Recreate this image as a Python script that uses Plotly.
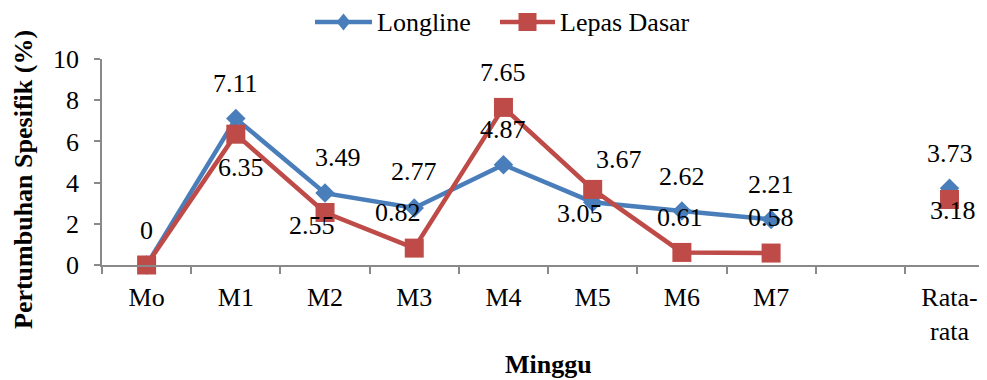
import plotly.graph_objects as go

categories = ["Mo", "M1", "M2", "M3", "M4", "M5", "M6", "M7", " ", "Rata-rata"]
tick_text = ["Mo", "M1", "M2", "M3", "M4", "M5", "M6", "M7", "", "Rata-<br>rata"]
series_names = ["Longline", "Lepas Dasar"]
longline = [0, 7.11, 3.49, 2.77, 4.87, 3.05, 2.62, 2.21, None, 3.73]
lepas_dasar = [0, 6.35, 2.55, 0.82, 7.65, 3.67, 0.61, 0.58, None, 3.18]

# label offsets (px) for data labels (styling)
long_off = [None, (0, 35), (13, 36), (0, 36), (0, 35), (-13, -11), (0, 35), (0, 35), None, (0, 35)]
lepas_off = [(0, 35), (5, -33), (-13, -13), (-16, 36), (0, 35), (26, 30), (-2, 35), (0, 36), None, (3, -11)]

FONT = "Liberation Serif, Times New Roman, serif"
BLUE = "#4A7EBB"
RED = "#BE4B48"
AXIS = "#898989"

OFF = 8  # page body margin
W, H = 987 - OFF, 380 - OFF
L, R, T, B = 102 - OFF, 0, 59 - OFF, 115
pw, ph = W - L - R, H - T - B


def px_x(page_x):
    return (page_x - OFF - L) / pw


def px_y(page_y):
    return (H - B - (page_y - OFF)) / ph


fig = go.Figure()
fig.add_trace(go.Scatter(
    x=categories, y=longline, name=series_names[0], mode="lines+markers",
    line=dict(color=BLUE, width=4.5),
    marker=dict(symbol="diamond", size=15, color=BLUE),
    connectgaps=False, cliponaxis=False, showlegend=False,
))
fig.add_trace(go.Scatter(
    x=categories, y=lepas_dasar, name=series_names[1], mode="lines+markers",
    line=dict(color=RED, width=4.5),
    marker=dict(symbol="square", size=19, color=RED),
    connectgaps=False, cliponaxis=False, showlegend=False,
))

annotations = []
for series, offs in ((longline, long_off), (lepas_dasar, lepas_off)):
    for c, v, o in zip(categories, series, offs):
        if v is None or o is None:
            continue
        annotations.append(dict(
            x=c, y=v, xref="x", yref="y", text=f"{v:g}", showarrow=False,
            xshift=o[0], yshift=o[1], xanchor="center", yanchor="middle",
            font=dict(family=FONT, size=26, color="black"),
        ))

annotations.append(dict(
    x=px_x(23), y=px_y(180), xref="paper", yref="paper",
    text="<b>Pertumbuhan Spesifik (%)</b>", xanchor="center", yanchor="middle",
    showarrow=False, textangle=-90, font=dict(family=FONT, size=26, color="black"),
))
annotations.append(dict(
    x=px_x(548), y=px_y(364), xref="paper", yref="paper",
    text="<b>Minggu</b>", xanchor="center", yanchor="middle",
    showarrow=False, font=dict(family=FONT, size=26, color="black"),
))

# custom legend (lines with longer strokes, like the reference)
LEG_Y = 22
shapes = []
legend_items = [
    (series_names[0], BLUE, "diamond", 315, 372, 375),
    (series_names[1], RED, "square", 500, 555, 558),
]
for name, col, sym, x0, x1, tx in legend_items:
    shapes.append(dict(type="line", xref="paper", yref="paper",
                       x0=px_x(x0), x1=px_x(x1), y0=px_y(LEG_Y), y1=px_y(LEG_Y),
                       line=dict(color=col, width=4.5)))
    cx = (x0 + x1) / 2
    if sym == "diamond":
        path = (f"M {px_x(cx)},{px_y(LEG_Y - 8.5)} L {px_x(cx + 7)},{px_y(LEG_Y)} "
                f"L {px_x(cx)},{px_y(LEG_Y + 8.5)} L {px_x(cx - 7)},{px_y(LEG_Y)} Z")
        shapes.append(dict(type="path", xref="paper", yref="paper", path=path,
                           fillcolor=col, line=dict(width=0)))
    else:
        shapes.append(dict(type="rect", xref="paper", yref="paper",
                           x0=px_x(cx - 9), x1=px_x(cx + 9),
                           y0=px_y(LEG_Y - 9), y1=px_y(LEG_Y + 9),
                           fillcolor=col, line=dict(width=0)))
    annotations.append(dict(
        x=px_x(tx), y=px_y(LEG_Y), xref="paper", yref="paper", text=name,
        xanchor="left", yanchor="middle", showarrow=False,
        font=dict(family=FONT, size=26, color="black"),
    ))

fig.update_layout(
    width=W, height=H,
    margin=dict(l=L, r=R, t=T, b=B, autoexpand=False),
    plot_bgcolor="white", paper_bgcolor="white",
    font=dict(family=FONT, size=26, color="black"),
    showlegend=False,
    xaxis=dict(
        type="category", categoryorder="array", categoryarray=categories,
        tickmode="array", tickvals=categories, ticktext=tick_text,
        range=[-0.5, 9.42], showline=True, linecolor=AXIS, linewidth=1.5,
        ticks="outside", tickson="boundaries", ticklen=7, tickcolor=AXIS, tickwidth=1.5,
        showgrid=False, zeroline=False, ticklabelstandoff=8, automargin=False,
    ),
    yaxis=dict(
        range=[0, 10], tickvals=[0, 2, 4, 6, 8, 10], showline=True, linecolor=AXIS,
        linewidth=1.5, ticks="outside", ticklen=6, tickcolor=AXIS, tickwidth=1.5,
        showgrid=False, zeroline=False, ticklabelstandoff=10, automargin=False,
    ),
    shapes=shapes,
    annotations=annotations,
)

fig.write_html("out.html")
